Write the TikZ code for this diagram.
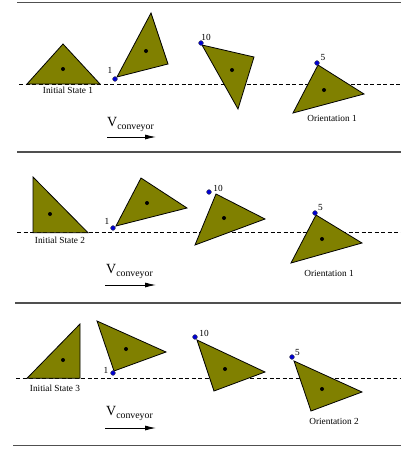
\documentclass[tikz,border=0pt]{standalone}
\usepackage{fontspec}
\setmainfont{Liberation Serif}
\usetikzlibrary{arrows.meta}
\definecolor{olivefill}{RGB}{128,128,0}
\definecolor{sepgray}{RGB}{80,80,80}
\definecolor{pinblue}{RGB}{0,0,210}
\tikzset{
  tri/.style={fill=olivefill,draw=black,line width=0.8pt,line join=miter},
  cdot/.style={fill=black,draw=none},
  pin/.style={fill=pinblue,draw=black!70,line width=0.4pt},
  sep/.style={draw=sepgray,line width=1.5pt},
  belt/.style={draw=black,dashed,dash pattern=on 4pt off 2.5pt,line width=0.8pt},
  lbl/.style={font=\fontsize{9.3}{10}\selectfont,inner sep=0pt},
  vel/.style={-{Latex[length=11pt,width=5pt]},line width=0.9pt},
}
\newcommand{\vconv}{{\fontsize{14}{14}\selectfont V}\raisebox{-3.5pt}{\fontsize{9.8}{10}\selectfont conveyor}}
\begin{document}
\begin{tikzpicture}[x=1pt,y=-1pt]
\useasboundingbox (0,0) rectangle (401,450);
% separators
\draw[sep] (17,2.5) -- (401,2.5);
\draw[sep] (17,152) -- (401,152);
\draw[sep] (15,303) -- (401,303);
\draw[sep] (13,445.5) -- (401,445.5);
% belts
\draw[belt] (19,84) -- (401,84);
\draw[belt] (17,232.7) -- (401,232.7);
\draw[belt] (16,378.3) -- (401,378.3);

% ---------- Panel 1 ----------
\draw[tri] (27,84) -- (63,44) -- (100,84) -- cycle;
\fill[cdot] (63,69) circle (2);
\node[lbl] (is1) at (68,90.5) {Initial State 1};

\draw[tri] (117,77) -- (151,13) -- (168,64) -- cycle;
\fill[cdot] (146,51) circle (2);
\draw[pin] (115,79) circle (2.4);
\node[lbl] (p11) at (110,70) {1};

\draw[tri] (202,45) -- (254,57) -- (238,109) -- cycle;
\fill[cdot] (232,70) circle (2);
\draw[pin] (201,43) circle (2.4);
\node[lbl] (p12) at (206,37.5) {10};

\draw[tri] (318,65) -- (364,94) -- (293,113) -- cycle;
\fill[cdot] (324,90) circle (2);
\draw[pin] (317,63) circle (2.4);
\node[lbl] (p13) at (323,57.5) {5};
\node[lbl] (or1) at (332,118.5) {Orientation 1};

\node[anchor=base west,inner sep=0pt] (v1) at (107,126) {\vconv};
\coordinate (a1s) at (107,137);
\coordinate (a1e) at (156,137);
\draw[vel] (a1s) -- (a1e);

% ---------- Panel 2 ----------
\draw[tri] (33,177) -- (33,232.7) -- (88,232.7) -- cycle;
\fill[cdot] (50,214) circle (2);
\node[lbl] (is2) at (60,240) {Initial State 2};

\draw[tri] (116,226) -- (141,178) -- (187,208) -- cycle;
\fill[cdot] (147,203) circle (2);
\draw[pin] (113,228) circle (2.4);
\node[lbl] (p21) at (107,221.5) {1};

\draw[tri] (216,194) -- (265,219) -- (195,245) -- cycle;
\fill[cdot] (224,218) circle (2);
\draw[pin] (209,192) circle (2.4);
\node[lbl] (p22) at (218,188) {10};

\draw[tri] (316,215) -- (362,243) -- (291,263) -- cycle;
\fill[cdot] (322,239) circle (2);
\draw[pin] (315,213) circle (2.4);
\node[lbl] (p23) at (320.5,207) {5};
\node[lbl] (or2) at (329,273) {Orientation 1};

\node[anchor=base west,inner sep=0pt] (v2) at (106,273) {\vconv};
\coordinate (a2s) at (105,285);
\coordinate (a2e) at (156,285);
\draw[vel] (a2s) -- (a2e);

% ---------- Panel 3 ----------
\draw[tri] (27,378.3) -- (80,324) -- (80,378.3) -- cycle;
\fill[cdot] (63,360) circle (2);
\node[lbl] (is3) at (55,388) {Initial State 3};

\draw[tri] (97,321) -- (166,352) -- (114,371) -- cycle;
\fill[cdot] (126,349) circle (2);
\draw[pin] (113,373) circle (2.4);
\node[lbl] (p31) at (106,370) {1};

\draw[tri] (197,340) -- (265,372) -- (214,391) -- cycle;
\fill[cdot] (225,369) circle (2);
\draw[pin] (195,337) circle (2.4);
\node[lbl] (p32) at (204,333.5) {10};

\draw[tri] (294,361) -- (362,392) -- (311,411) -- cycle;
\fill[cdot] (322,389) circle (2);
\draw[pin] (292,357) circle (2.4);
\node[lbl] (p33) at (297.5,352) {5};
\node[lbl] (or3) at (334,421) {Orientation 2};

\node[anchor=base west,inner sep=0pt] (v3) at (106,415) {\vconv};
\coordinate (a3s) at (105,428);
\coordinate (a3e) at (156,428);
\draw[vel] (a3s) -- (a3e);
\end{tikzpicture}
\end{document}
